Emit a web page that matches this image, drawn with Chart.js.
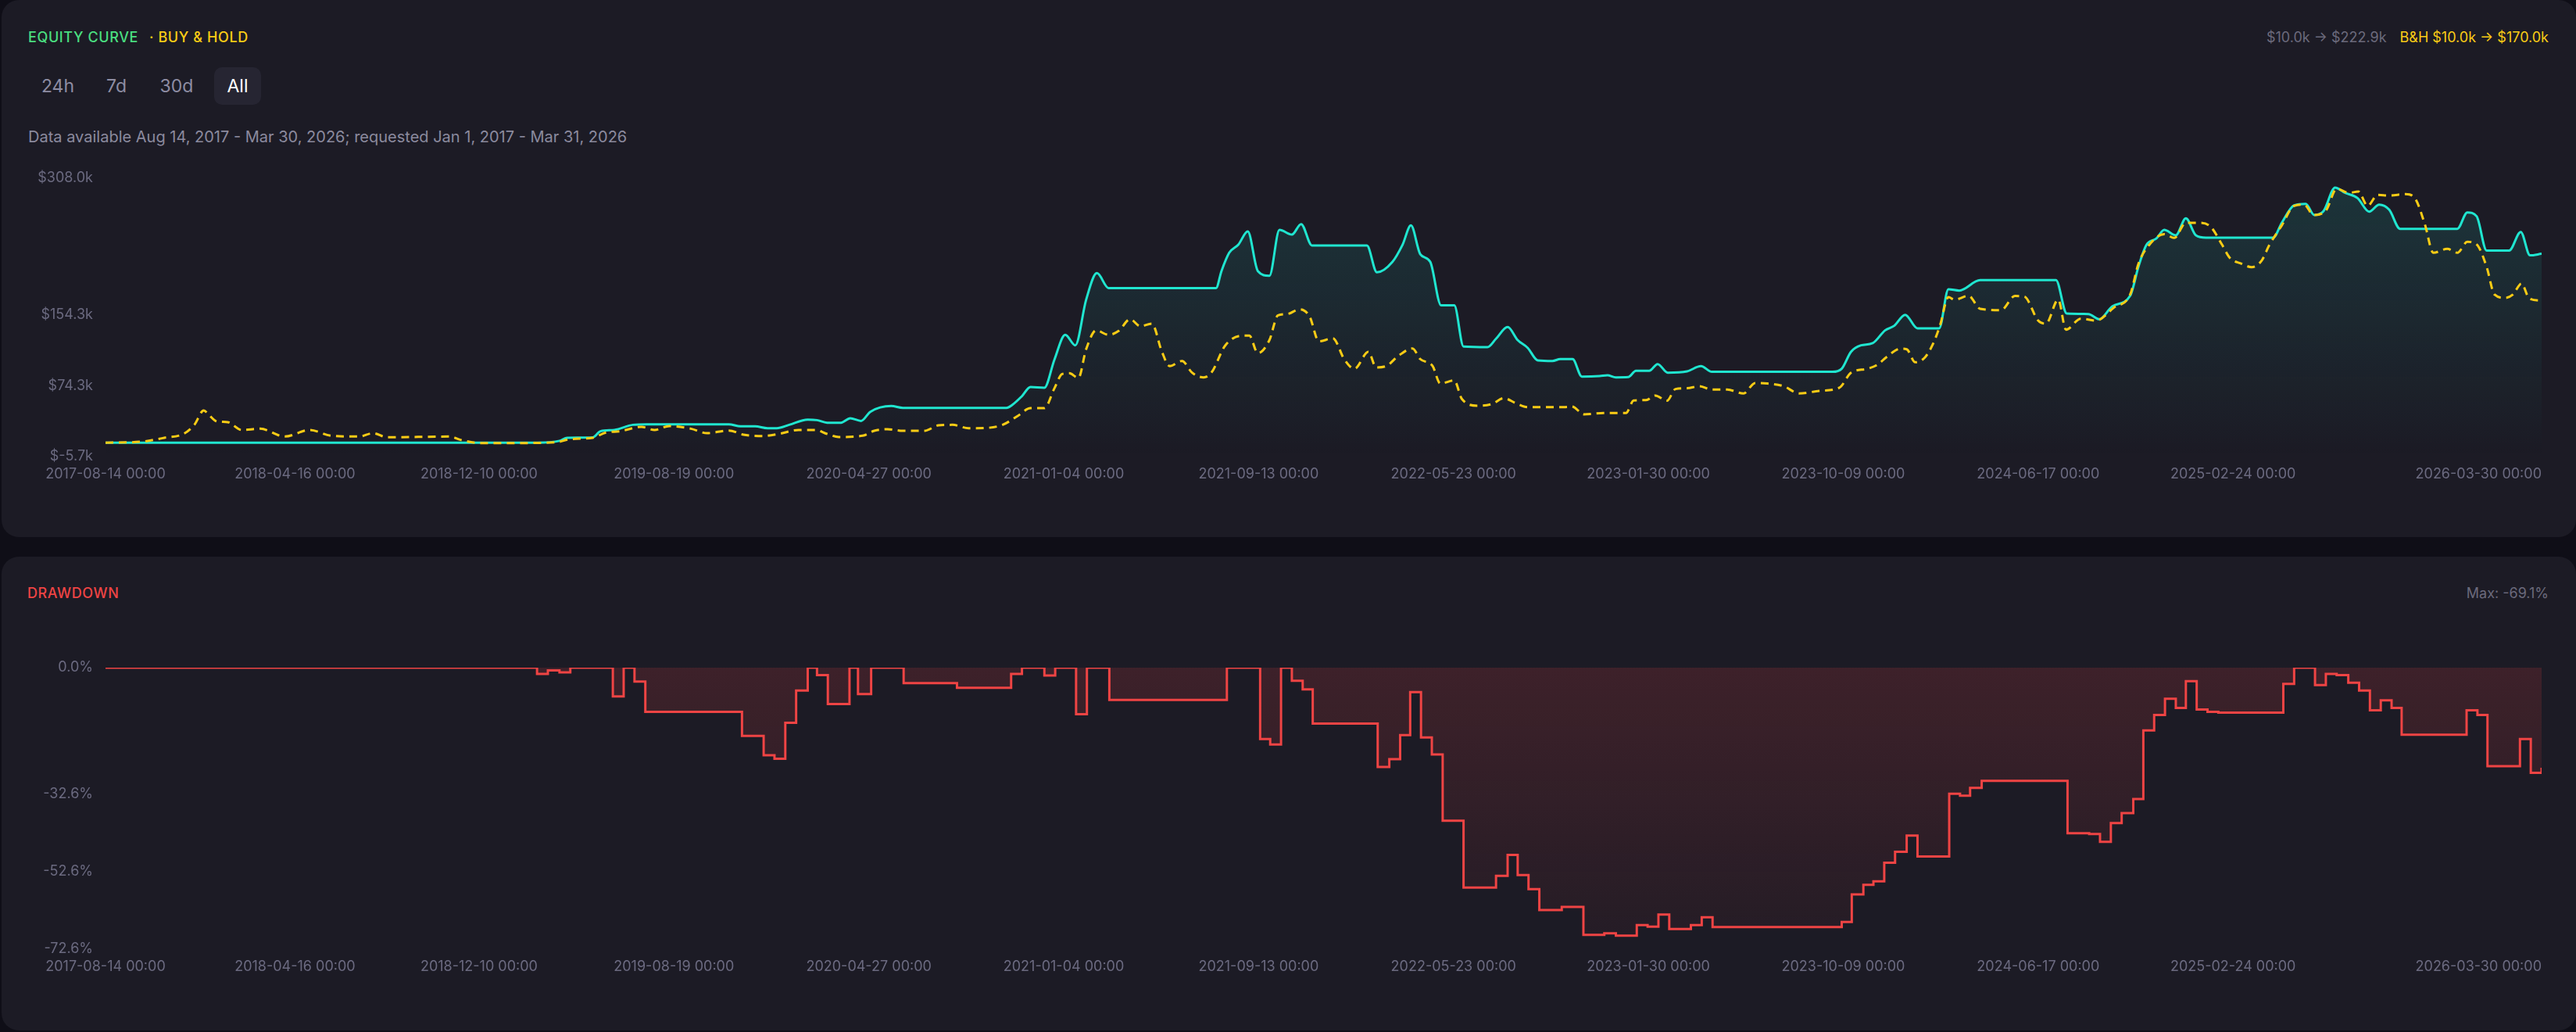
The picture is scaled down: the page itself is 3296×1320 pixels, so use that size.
<!DOCTYPE html>
<html>
<head>
<meta charset="utf-8">
<script src="https://cdn.jsdelivr.net/npm/chart.js@4.4.1/dist/chart.umd.min.js"></script>
<style>
  html, body { margin: 0; padding: 0; }
  body {
    width: 3296px; height: 1320px; overflow: hidden; position: relative;
    background: #0f0e17; font-family: Inter, 'Noto Sans', sans-serif;
  }
  .card { position: absolute; left: 2px; width: 3294px; background: #1c1b25; border-radius: 22px; }
  .abs { position: absolute; white-space: nowrap; }
  .title { font-size: 18px; line-height: 22px; font-weight: 500; letter-spacing: 0.6px; }
  .btn {
    position: absolute; top: 86px; height: 48px; line-height: 48px; width: 60px;
    text-align: center; font-size: 23px; color: #8e8da3; border-radius: 10px;
  }
  .btn.active { background: #262532; color: #ffffff; }
  .chartbox { position: absolute; left: 0; width: 3296px; }
</style>
</head>
<body>
<div class="card" style="top:0;height:687px"></div>
<div class="card" style="top:712px;height:606px"></div>

<div class="abs title" style="left:36px;top:37px">
  <span style="color:#4ade80">EQUITY CURVE</span><span style="color:#facc15;margin-left:14px">· BUY &amp; HOLD</span>
</div>
<div class="abs title" id="summary" style="right:35px;top:37px;letter-spacing:0;font-weight:400"></div>

<div class="btn" style="left:44px">24h</div>
<div class="btn" style="left:119px">7d</div>
<div class="btn" style="left:196px">30d</div>
<div class="btn active" style="left:274px">All</div>

<div class="abs" style="left:36px;top:163px;font-size:20px;line-height:24px;color:#8b8a9e">Data available Aug 14, 2017 - Mar 30, 2026; requested Jan 1, 2017 - Mar 31, 2026</div>

<div class="chartbox" style="top:200px;height:434px"><canvas id="equityChart"></canvas></div>

<div class="abs title" style="left:35px;top:748px;color:#ef4444">DRAWDOWN</div>
<div class="abs title" id="maxdd" style="right:35px;top:748px;color:#6b6a7c;letter-spacing:0;font-weight:400"></div>

<div class="chartbox" style="top:826px;height:438px"><canvas id="ddChart"></canvas></div>

<script>
// x positions are days since 2017-08-14
const xTickLabels = ['2017-08-14 00:00', '2018-04-16 00:00', '2018-12-10 00:00', '2019-08-19 00:00',
  '2020-04-27 00:00', '2021-01-04 00:00', '2021-09-13 00:00', '2022-05-23 00:00', '2023-01-30 00:00',
  '2023-10-09 00:00', '2024-06-17 00:00', '2025-02-24 00:00', '2026-03-30 00:00'];

// strategy equity, $k
const eqDays = [
  0, 558, 587, 597, 630, 640, 658, 682, 700, 806,
  821, 840, 856, 868, 884, 908, 920, 933, 951, 963,
  977, 989, 1016, 1031, 1165, 1172, 1185, 1196, 1214, 1227,
  1241, 1254, 1268, 1282, 1297, 1436, 1443, 1453, 1465, 1477,
  1490, 1505, 1518, 1534, 1546, 1560, 1631, 1644, 1664, 1677,
  1688, 1700, 1713, 1727, 1744, 1756, 1787, 1798, 1813, 1826,
  1839, 1852, 1871, 1881, 1897, 1909, 1932, 1942, 1953, 1969,
  1979, 1996, 2007, 2020, 2045, 2063, 2077, 2233, 2245, 2257,
  2270, 2285, 2301, 2313, 2327, 2343, 2371, 2383, 2397, 2424,
  2522, 2536, 2564, 2578, 2595, 2618, 2629, 2639, 2652, 2662,
  2677, 2690, 2703, 2716, 2803, 2814, 2830, 2845, 2856, 2868,
  2883, 2896, 2912, 2927, 2940, 2953, 2967, 3041, 3054, 3066,
  3079, 3108, 3123, 3135, 3150];
const eqValues = [
  10.0, 10.0, 12.0, 15.5, 16.0, 22.8, 24.3, 30.1, 30.7, 30.7,
  28.4, 28.4, 26.3, 26.3, 30.1, 36.0, 35.4, 32.5, 32.5, 37.5,
  34.5, 44.8, 51.3, 49.2, 49.2, 52.2, 62.4, 72.7, 71.9, 103.6,
  131.5, 119.7, 171.1, 201.1, 184.3, 184.3, 203.4, 224.0, 233.4, 248.1,
  203.4, 198.1, 249.8, 244.5, 256.3, 232.2, 232.2, 202.0, 213.7, 232.8,
  254.8, 222.5, 213.7, 164.7, 164.7, 118.3, 117.7, 127.1, 140.3, 125.6,
  116.8, 102.7, 102.1, 104.2, 104.2, 84.5, 85.1, 86.0, 83.6, 83.9,
  91.0, 91.0, 98.6, 88.9, 90.4, 96.3, 89.8, 89.8, 93.3, 112.4,
  119.7, 122.1, 136.5, 141.8, 154.1, 138.8, 138.8, 182.9, 181.4, 193.2,
  193.2, 155.5, 155.0, 149.1, 163.8, 175.6, 209.3, 232.8, 240.2, 249.8,
  243.7, 262.8, 243.7, 241.1, 241.1, 257.8, 277.5, 279.2, 266.6, 271.0,
  297.4, 291.5, 285.7, 270.4, 278.3, 272.5, 251.0, 251.0, 269.5, 265.1,
  226.4, 226.4, 247.5, 221.1, 222.9];

// buy & hold, $k
const bhDays = [
  0, 47, 76, 101, 115, 127, 133, 144, 158, 176,
  200, 232, 264, 292, 328, 346, 364, 445, 459, 484,
  537, 583, 601, 630, 647, 665, 693, 710, 729, 757,
  778, 806, 825, 851, 871, 896, 918, 933, 948, 979,
  994, 1011, 1031, 1059, 1077, 1095, 1116, 1139, 1160, 1180,
  1196, 1214, 1227, 1237, 1246, 1258, 1268, 1281, 1297, 1310,
  1325, 1338, 1353, 1366, 1376, 1392, 1405, 1420, 1430, 1448,
  1471, 1479, 1490, 1505, 1516, 1528, 1544, 1557, 1569, 1587,
  1602, 1615, 1633, 1643, 1656, 1672, 1690, 1700, 1716, 1726,
  1744, 1754, 1775, 1793, 1808, 1824, 1839, 1886, 1896, 1912,
  1937, 1966, 1976, 1992, 2004, 2019, 2030, 2045, 2061, 2077,
  2097, 2118, 2133, 2149, 2170, 2190, 2216, 2242, 2257, 2278,
  2291, 2303, 2321, 2329, 2340, 2353, 2363, 2372, 2383, 2391,
  2409, 2424, 2451, 2469, 2481, 2499, 2509, 2525, 2535, 2554,
  2574, 2597, 2618, 2629, 2644, 2662, 2675, 2690, 2708, 2722,
  2737, 2747, 2762, 2775, 2788, 2798, 2814, 2830, 2843, 2855,
  2871, 2885, 2901, 2913, 2925, 2938, 2953, 2974, 2986, 2999,
  3010, 3028, 3041, 3054, 3066, 3079, 3089, 3103, 3113, 3124,
  3134, 3150];
const bhValues = [
  10.0, 11.1, 15.5, 19.9, 30.2, 46.3, 41.9, 34.0, 33.1, 24.3,
  25.7, 16.9, 24.3, 17.8, 16.9, 20.7, 16.0, 16.9, 13.1, 9.6,
  9.6, 10.5, 14.0, 15.5, 21.4, 22.8, 27.8, 24.3, 28.7, 25.7,
  20.7, 23.7, 19.0, 17.5, 19.9, 24.3, 24.3, 19.9, 16.4, 17.8,
  23.4, 25.2, 23.4, 23.4, 29.5, 30.1, 26.3, 26.6, 30.1, 40.4,
  48.9, 48.9, 71.3, 87.4, 88.3, 83.0, 115.3, 136.5, 131.5, 135.9,
  149.1, 141.2, 144.1, 112.4, 96.3, 102.1, 88.9, 83.6, 88.9, 119.7,
  130.6, 130.6, 110.9, 125.6, 153.5, 155.0, 160.3, 152.1, 124.1, 127.6,
  103.6, 93.3, 112.4, 94.8, 96.3, 108.0, 116.2, 104.2, 96.3, 76.6,
  80.1, 59.0, 51.6, 53.6, 60.1, 54.3, 50.1, 50.1, 50.7, 41.9,
  43.4, 43.4, 57.5, 58.0, 63.1, 57.2, 70.4, 71.3, 73.6, 69.8,
  69.8, 65.4, 77.2, 76.6, 73.6, 65.4, 68.3, 71.9, 88.9, 93.3,
  97.7, 106.5, 115.9, 115.3, 100.6, 106.5, 121.2, 141.8, 174.1, 171.1,
  175.6, 160.9, 159.4, 175.3, 174.7, 147.6, 144.1, 171.1, 137.3, 149.7,
  147.6, 162.3, 177.0, 212.3, 234.3, 245.1, 240.7, 257.8, 257.8, 253.4,
  232.8, 218.1, 211.7, 207.8, 215.2, 232.8, 254.8, 276.9, 278.3, 266.6,
  271.5, 296.0, 291.5, 293.0, 276.9, 289.2, 288.6, 290.1, 285.7, 256.3,
  224.0, 228.4, 224.0, 236.3, 233.4, 207.8, 177.0, 173.2, 177.0, 189.3,
  172.6, 170.0];

// drawdown %, each value holds until the next day listed
const ddDays = [
  0, 558, 572, 587, 601, 656, 670, 684, 698, 823,
  851, 865, 879, 893, 908, 920, 934, 962, 973, 990,
  1032, 1101, 1171, 1185, 1214, 1228, 1255, 1269, 1298, 1450,
  1493, 1506, 1520, 1534, 1548, 1561, 1645, 1660, 1674, 1687,
  1701, 1715, 1729, 1756, 1798, 1813, 1826, 1840, 1854, 1883,
  1911, 1938, 1953, 1980, 1994, 2008, 2022, 2050, 2064, 2078,
  2245, 2258, 2273, 2286, 2300, 2314, 2329, 2343, 2384, 2398,
  2411, 2426, 2537, 2565, 2579, 2593, 2607, 2622, 2635, 2649,
  2663, 2677, 2690, 2704, 2718, 2732, 2816, 2830, 2857, 2871,
  2885, 2900, 2914, 2928, 2942, 2956, 2969, 3053, 3067, 3080,
  3122, 3136, 3150];
const ddValues = [
  0, -1.6, -0.7, -1.2, 0, -7.4, 0, -3.6, -11.4, -17.6,
  -22.6, -23.5, -14.2, -5.9, 0, -1.9, -9.4, 0, -6.8, 0,
  -4.0, -5.2, -1.6, 0, -2.0, 0, -12.0, 0, -8.3, 0,
  -18.4, -19.8, 0, -3.4, -5.6, -14.4, -25.6, -23.6, -17.4, -6.3,
  -18.0, -22.4, -39.5, -56.7, -53.7, -48.3, -53.5, -57.1, -62.5, -61.7,
  -68.9, -68.5, -69.1, -66.4, -66.8, -63.7, -67.4, -66.4, -64.4, -66.9,
  -65.6, -58.5, -56.0, -55.1, -50.3, -47.5, -43.3, -48.7, -32.5, -33.0,
  -31.0, -29.2, -42.7, -42.9, -44.9, -40.1, -37.5, -33.9, -16.2, -12.2,
  -8.0, -10.4, -3.5, -10.8, -11.4, -11.6, -4.2, 0, -4.5, -1.6,
  -1.9, -3.9, -5.9, -11.0, -8.4, -10.4, -17.3, -11.0, -12.2, -25.4,
  -18.4, -27.1, -25.8];

const eqTicks = [-5.7, 74.3, 154.3, 308.0];
const ddTicks = [-72.6, -52.6, -32.6, 0];

// header texts
const k = v => '$' + v.toFixed(1) + 'k';
document.getElementById('summary').innerHTML =
  '<span style="color:#6b6a7c">' + k(eqValues[0]) + ' → ' + k(eqValues[eqValues.length - 1]) + '</span>' +
  '<span style="color:#facc15;margin-left:17px">B&amp;H ' + k(bhValues[0]) + ' → ' + k(bhValues[bhValues.length - 1]) + '</span>';
document.getElementById('maxdd').textContent = 'Max: ' + Math.min(...ddValues).toFixed(1) + '%';

const START = Date.UTC(2017, 7, 14);
const dayOf = s => (Date.parse(s.slice(0, 10) + 'T00:00:00Z') - START) / 864e5;
const xTickDays = xTickLabels.map(dayOf);
const pts = (xs, ys) => xs.map((x, i) => ({ x: x, y: ys[i] }));

const tickColor = '#6b6a80';
Chart.defaults.font.family = 'Inter';
Chart.defaults.font.size = 18;

function xAxis() {
  return {
    type: 'linear',
    bounds: 'data',
    min: xTickDays[0],
    max: xTickDays[xTickDays.length - 1],
    grid: { display: false, drawTicks: false },
    border: { display: false },
    ticks: {
      autoSkip: false, maxRotation: 0, align: 'inner', padding: 12, color: tickColor,
      // first tick is an empty spacer so the real first label stays centred
      callback: (v, i) => i === 0 ? '' : xTickLabels[i - 1]
    },
    afterBuildTicks: s => { s.ticks = [{ value: xTickDays[0] }].concat(xTickDays.map(v => ({ value: v }))); },
    afterFit: s => { s.height = 50; }
  };
}

function yAxis(tickVals, fmt) {
  return {
    min: tickVals[0],
    max: tickVals[tickVals.length - 1],
    grid: { display: false, drawTicks: false },
    border: { display: false },
    ticks: { padding: 16, color: tickColor, autoSkip: false, callback: fmt },
    afterBuildTicks: s => { s.ticks = tickVals.map(v => ({ value: v })); },
    afterFit: s => { s.width = 135; }
  };
}

function vGradient(stops) {
  return context => {
    const area = context.chart.chartArea;
    if (!area) return 'transparent';
    const g = context.chart.ctx.createLinearGradient(0, area.top, 0, area.bottom);
    stops.forEach(s => g.addColorStop(s[0], s[1]));
    return g;
  };
}

const common = {
  responsive: true,
  maintainAspectRatio: false,
  animation: false,
  events: [],
  layout: { padding: { top: 28, right: 44, left: 0, bottom: 0 } },
  plugins: { legend: { display: false }, tooltip: { enabled: false } }
};

new Chart(document.getElementById('equityChart'), {
  type: 'line',
  data: {
    datasets: [
      {
        label: 'Buy & Hold',
        data: pts(bhDays, bhValues),
        borderColor: '#facc15',
        borderWidth: 3,
        borderDash: [10, 7],
        pointRadius: 0,
        cubicInterpolationMode: 'monotone',
        fill: false,
        order: 0
      },
      {
        label: 'Equity',
        data: pts(eqDays, eqValues),
        borderColor: '#20e6d0',
        borderWidth: 3,
        pointRadius: 0,
        cubicInterpolationMode: 'monotone',
        fill: 'start',
        backgroundColor: vGradient([[0, 'rgba(32,230,208,0.13)'], [1, 'rgba(32,230,208,0)']]),
        order: 1
      }
    ]
  },
  options: Object.assign({}, common, {
    scales: {
      x: xAxis(),
      y: yAxis(eqTicks, v => '$' + v.toFixed(1) + 'k')
    }
  })
});

new Chart(document.getElementById('ddChart'), {
  type: 'line',
  data: {
    datasets: [{
      label: 'Drawdown',
      data: pts(ddDays, ddValues),
      borderColor: '#ef4444',
      borderWidth: 3,
      pointRadius: 0,
      stepped: true,
      fill: 'origin',
      backgroundColor: vGradient([[0, 'rgba(239,68,68,0.16)'], [1, 'rgba(239,68,68,0.04)']])
    }]
  },
  options: Object.assign({}, common, {
    scales: {
      x: xAxis(),
      y: yAxis(ddTicks, v => v.toFixed(1) + '%')
    }
  })
});
</script>
</body>
</html>
